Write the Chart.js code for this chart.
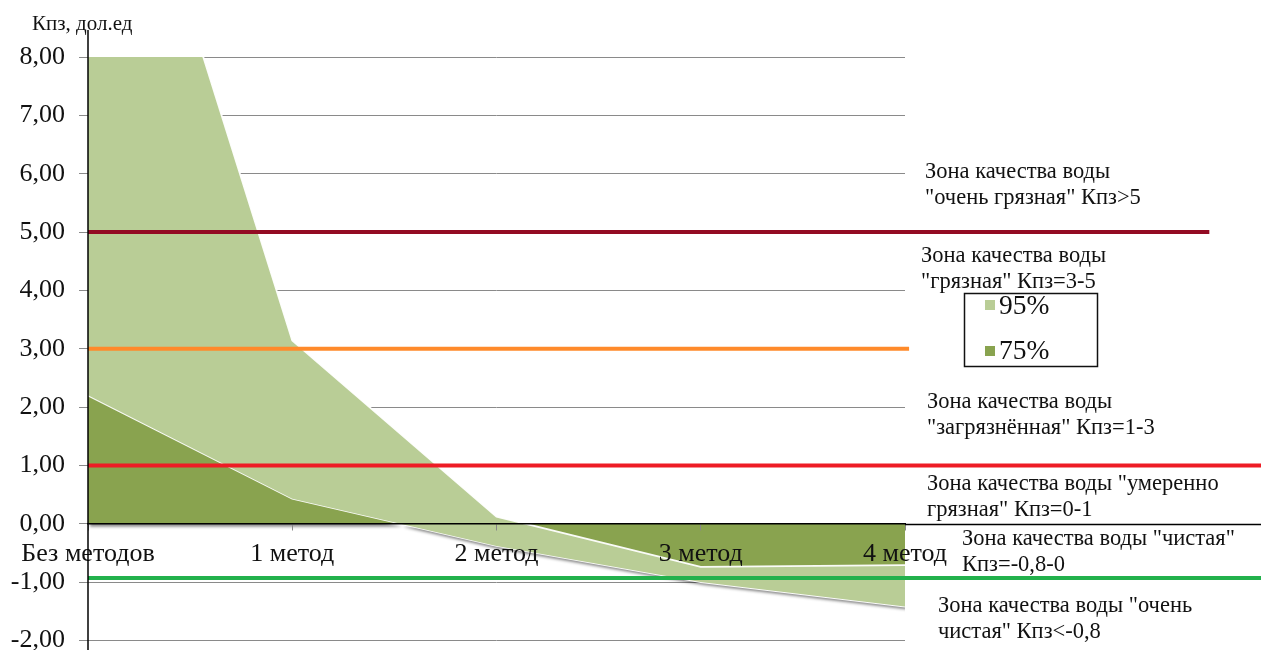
<!DOCTYPE html>
<html>
<head>
<meta charset="utf-8">
<script src="https://cdn.jsdelivr.net/npm/chart.js@4.4.0/dist/chart.umd.min.js"></script>
<style>
  html, body { margin: 0; padding: 0; background: #fff; overflow: hidden; }
  #wrap { width: 1261px; height: 670px; position: relative; }
</style>
</head>
<body>
<div id="wrap"><canvas id="c"></canvas></div>
<script>
// ---- data ----
const categories = ['Без методов', '1 метод', '2 метод', '3 метод', '4 метод'];
const kpz95 = [14.3, 3.14, 0.12, -0.74, -0.71];   // upper boundary (95%)
const kpz75 = [2.2, 0.43, -0.38, -1.0, -1.42];    // 75%
const seriesLabels = ['95%', '75%'];
const thresholds = [5, 3, 1, -0.93];
const thresholdEnds = [5.49, 4.02, 6, 6];
const yTicks = { min: -2, max: 8, step: 1 };
const yTitle = 'Кпз, дол.ед';
const zoneTexts = [
  ['Зона качества воды', '"очень грязная" Кпз>5'],
  ['Зона качества воды', '"грязная" Кпз=3-5'],
  ['Зона качества воды', '"загрязнённая" Кпз=1-3'],
  ['Зона качества воды "умеренно', 'грязная" Кпз=0-1'],
  ['Зона качества воды "чистая"', 'Кпз=-0,8-0'],
  ['Зона качества воды "очень', 'чистая" Кпз<-0,8']
];

// ---- styles ----
const LIGHT = '#B9CD96';
const DARK = '#89A34F';
const thresholdColors = ['#930B23', '#FF8A2A', '#EE1C25', '#22B14C'];
const FONT = 'Liberation Serif';
const zonePos = [[925, 178], [921, 262], [927, 408], [927, 490], [962, 545], [938, 612]];

const pts = arr => arr.map((v, i) => ({ x: i, y: v }));

const datasets = [
  { label: seriesLabels[0], data: pts(kpz95), backgroundColor: LIGHT, borderColor: 'rgba(255,255,255,0.95)',
    borderWidth: 1.8, pointRadius: 0, fill: 1, order: 1, tension: 0 },
  { label: seriesLabels[1], data: pts(kpz75), backgroundColor: DARK, borderColor: 'rgba(255,255,255,0.95)',
    borderWidth: 1.8, pointRadius: 0, fill: 'origin', order: 2, tension: 0 }
];
thresholds.forEach((t, i) => {
  datasets.push({ label: 'thr' + i, data: [{ x: 0, y: t }, { x: thresholdEnds[i], y: t }],
    borderColor: thresholdColors[i], borderWidth: 4, pointRadius: 0, fill: false, clip: false, order: 0 });
});

// outer shadow on the first-drawn (75%) area fill only
function setShadow(ctx, on) {
  ctx.shadowColor = on ? 'rgba(0,0,0,0.45)' : 'rgba(0,0,0,0)';
  ctx.shadowOffsetX = on ? 2 : 0;
  ctx.shadowOffsetY = on ? 3 : 0;
  ctx.shadowBlur = on ? 3 : 0;
}
const areaShadow = {
  id: 'areaShadow',
  beforeDatasetsDraw(chart) { setShadow(chart.ctx, true); },
  beforeDatasetDraw(chart) { setShadow(chart.ctx, false); }
};

const decor = {
  id: 'decor',
  afterDraw(chart) {
    const { ctx, chartArea: a, scales: { y } } = chart;
    ctx.save();
    setShadow(ctx, false);
    ctx.strokeStyle = '#000';
    ctx.lineWidth = 1.5;
    ctx.beginPath();
    ctx.moveTo(a.left, a.top - 27);
    ctx.lineTo(a.left, chart.height);
    ctx.stroke();
    const y0 = Math.round(y.getPixelForValue(0)) + 0.5;
    ctx.beginPath();
    ctx.moveTo(a.right, y0);
    ctx.lineTo(chart.width, y0);
    ctx.stroke();
    ctx.fillStyle = '#111';
    ctx.font = '21px "' + FONT + '"';
    ctx.textBaseline = 'alphabetic';
    ctx.textAlign = 'left';
    ctx.fillText(yTitle, 32, 30);
    ctx.font = '22.5px "' + FONT + '"';
    zoneTexts.forEach((lines, i) => {
      const [px, py] = zonePos[i];
      lines.forEach((ln, j) => ctx.fillText(ln, px, py + j * 26));
    });
    ctx.lineWidth = 1.5;
    ctx.strokeStyle = '#111';
    ctx.strokeRect(964.5, 293.5, 133, 73);
    const cols = [LIGHT, DARK];
    ctx.font = '27.5px "' + FONT + '"';
    seriesLabels.forEach((lab, i) => {
      ctx.fillStyle = cols[i];
      ctx.fillRect(985, 300 + i * 46, 10, 10);
      ctx.fillStyle = '#111';
      ctx.fillText(lab, 999, 314 + i * 45);
    });
    ctx.restore();
  }
};

new Chart(document.getElementById('c'), {
  type: 'line',
  data: { datasets },
  options: {
    responsive: true,
    maintainAspectRatio: false,
    animation: false,
    layout: { padding: { left: 0, right: 356, top: 57, bottom: 10 } },
    plugins: { legend: { display: false }, tooltip: { enabled: false } },
    scales: {
      x: {
        type: 'linear', min: 0, max: 4, position: { y: 0 },
        afterFit: s => { s.height = 0; },
        grid: { drawOnChartArea: false, drawTicks: true, tickLength: 6, color: '#888', z: 1 },
        border: { display: true, color: '#000', width: 1.5, z: 1 },
        ticks: {
          stepSize: 1, autoSkip: false, maxRotation: 0, padding: 9, color: '#111', z: 1,
          font: { family: FONT, size: 26 },
          callback: v => categories[v] ?? ''
        }
      },
      y: {
        min: yTicks.min, max: yTicks.max,
        afterFit: s => { s.width = 88; },
        grid: { color: '#8a8a8a', tickLength: 9, lineWidth: 1 },
        border: { display: false },
        ticks: {
          stepSize: yTicks.step, padding: 14, color: '#111',
          font: { family: FONT, size: 26 },
          callback: v => v.toFixed(2).replace('.', ',')
        }
      }
    }
  },
  plugins: [areaShadow, decor]
});
</script>
</body>
</html>
